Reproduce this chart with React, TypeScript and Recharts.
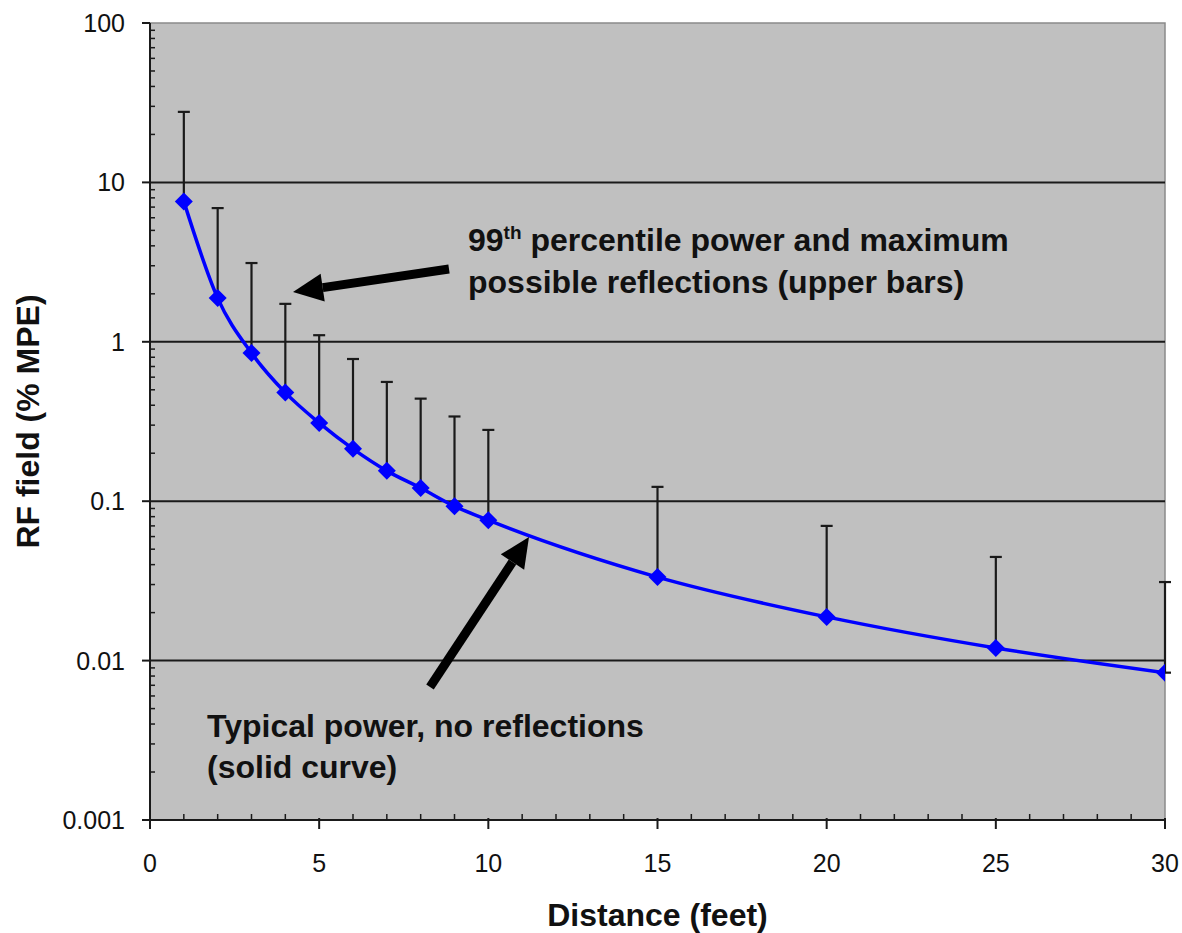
import {
  ComposedChart,
  ErrorBar,
  Line,
  ReferenceArea,
  ReferenceLine,
  XAxis,
  YAxis,
} from "recharts";

const distanceFeet = [1, 2, 3, 4, 5, 6, 7, 8, 9, 10, 15, 20, 25, 30];
const typicalPower = [
  7.6, 1.88, 0.85, 0.48, 0.31, 0.213, 0.155, 0.121, 0.093, 0.076, 0.0334, 0.0188, 0.012, 0.0084,
];
const upperBars = [
  27.7, 6.9, 3.12, 1.73, 1.1, 0.78, 0.56, 0.44, 0.34, 0.28, 0.123, 0.07, 0.0447, 0.0311,
];

const xTicks = [
  0, 1, 2, 3, 4, 5, 6, 7, 8, 9, 10, 11, 12, 13, 14, 15, 16, 17, 18, 19, 20, 21, 22, 23, 24, 25,
  26, 27, 28, 29, 30,
];
const yDecades = [0.001, 0.01, 0.1, 1, 10, 100];
const gridValues = [0.01, 0.1, 1, 10];

const yTickLabels: Record<string, string> = {
  "0.001": "0.001",
  "0.01": "0.01",
  "0.1": "0.1",
  "1": "1",
  "10": "10",
  "100": "100",
};

// log minor ticks 2..9 inside every decade
const yTicks = yDecades
  .slice(0, -1)
  .flatMap((d) => [1, 2, 3, 4, 5, 6, 7, 8, 9].map((m) => m * d))
  .concat([100]);

const data = distanceFeet.map((d, i) => ({
  distance: d,
  typical: typicalPower[i],
  err: [0, upperBars[i] - typicalPower[i]],
}));

const FONT = "'Liberation Sans', Arial, Helvetica, sans-serif";
const INK = "#1a1a1a";

function isDecade(v: number) {
  const l = Math.log10(v);
  return Math.abs(l - Math.round(l)) < 1e-6;
}

function XTick({ x, y, payload }: any) {
  const v = payload.value as number;
  const major = v % 5 === 0;
  return (
    <g>
      {major ? (
        <line x1={x} x2={x} y1={y - 2} y2={y + 9} stroke={INK} strokeWidth={2} />
      ) : (
        <line x1={x} x2={x} y1={y - 6} y2={y} stroke={INK} strokeWidth={1.5} />
      )}
      {major ? (
        <text x={x} y={y + 52} textAnchor="middle" fontSize={25} fontFamily={FONT} fill="#111">
          {v}
        </text>
      ) : null}
    </g>
  );
}

function YTick({ x, y, payload }: any) {
  const v = payload.value as number;
  if (!isDecade(v)) {
    return <line x1={x} x2={x + 5} y1={y} y2={y} stroke={INK} strokeWidth={1.5} />;
  }
  const key = String(Number(v.toPrecision(3)));
  return (
    <g>
      <line x1={x - 8} x2={x} y1={y} y2={y} stroke={INK} strokeWidth={2} />
      <text x={x - 25} y={y + 9} textAnchor="end" fontSize={25} fontFamily={FONT} fill="#111">
        {yTickLabels[key] ?? key}
      </text>
    </g>
  );
}

function Diamond({ cx, cy, index }: any) {
  if (cx == null || cy == null) return null;
  const r = 9;
  return (
    <polygon
      key={`d-${index}`}
      points={`${cx},${cy - r} ${cx + r},${cy} ${cx},${cy + r} ${cx - r},${cy}`}
      fill="#0000ff"
    />
  );
}

function YTitle({ viewBox }: any) {
  const cy = viewBox.y + viewBox.height / 2;
  const cx = 28;
  return (
    <text
      x={cx}
      y={cy}
      transform={`rotate(-90 ${cx} ${cy})`}
      textAnchor="middle"
      dominantBaseline="central"
      fontSize={32}
      fontWeight="bold"
      fontFamily={FONT}
      fill="#111"
    >
      RF field (% MPE)
    </text>
  );
}

function XTitle({ viewBox }: any) {
  const cx = viewBox.x + viewBox.width / 2;
  return (
    <text
      x={cx}
      y={926}
      textAnchor="middle"
      fontSize={32}
      fontWeight="bold"
      fontFamily={FONT}
      fill="#111"
    >
      Distance (feet)
    </text>
  );
}

function arrowHead(tail: [number, number], tip: [number, number], len: number, half: number) {
  const dx = tip[0] - tail[0];
  const dy = tip[1] - tail[1];
  const n = Math.hypot(dx, dy);
  const ux = dx / n;
  const uy = dy / n;
  const bx = tip[0] - ux * len;
  const by = tip[1] - uy * len;
  return {
    base: [bx, by],
    points: `${tip[0]},${tip[1]} ${bx - uy * half},${by + ux * half} ${bx + uy * half},${by - ux * half}`,
  };
}

function Arrow({ tail, tip }: { tail: [number, number]; tip: [number, number] }) {
  const head = arrowHead(tail, tip, 30, 14);
  return (
    <g>
      <line
        x1={tail[0]}
        y1={tail[1]}
        x2={head.base[0]}
        y2={head.base[1]}
        stroke="#000"
        strokeWidth={9}
      />
      <polygon points={head.points} fill="#000" />
    </g>
  );
}

function Annotations() {
  const textProps = {
    fontSize: 32,
    fontWeight: "bold" as const,
    fontFamily: FONT,
    fill: "#111",
  };
  return (
    <svg
      width={1182}
      height={933}
      style={{ position: "absolute", left: 0, top: 0, pointerEvents: "none" }}
    >
      <Arrow tail={[449, 269]} tip={[293, 292]} />
      <Arrow tail={[430, 687]} tip={[529, 537]} />
      <text x={468} y={251} {...textProps}>
        99<tspan fontSize={19} dy={-12}>th</tspan>
        <tspan dy={12}> percentile power and maximum</tspan>
      </text>
      <text x={468} y={293} {...textProps}>
        possible reflections (upper bars)
      </text>
      <text x={207} y={737} {...textProps}>
        Typical power, no reflections
      </text>
      <text x={207} y={778} {...textProps}>
        (solid curve)
      </text>
    </svg>
  );
}

export default function App() {
  return (
    <div
      style={{
        position: "absolute",
        left: 0,
        top: 0,
        width: 1182,
        height: 933,
        background: "#fff",
      }}
    >
      <ComposedChart
        width={1182}
        height={933}
        data={data}
        margin={{ top: 23, right: 17, bottom: 0, left: 0 }}
      >
        <ReferenceArea
          x1={0}
          x2={30}
          y1={0.001}
          y2={100}
          fill="#c0c0c0"
          fillOpacity={1}
          stroke="#8a8a8a"
          strokeWidth={1.5}
        />
        {gridValues.map((v) => (
          <ReferenceLine key={v} y={v} stroke={INK} strokeWidth={2} />
        ))}
        <XAxis
          dataKey="distance"
          type="number"
          domain={[0, 30]}
          ticks={xTicks}
          interval={0}
          height={113}
          tickSize={0}
          tickMargin={0}
          tickLine={false}
          tick={<XTick />}
          axisLine={{ stroke: INK, strokeWidth: 2 }}
          allowDataOverflow
          label={<XTitle />}
        />
        <YAxis
          type="number"
          scale="log"
          domain={[0.001, 100]}
          ticks={yTicks}
          interval={0}
          width={150}
          tickSize={0}
          tickMargin={0}
          tickLine={false}
          tick={<YTick />}
          axisLine={{ stroke: INK, strokeWidth: 2 }}
          allowDataOverflow
          label={<YTitle />}
        />
        <Line
          type="monotone"
          dataKey="typical"
          stroke="#0000ff"
          strokeWidth={3.5}
          dot={<Diamond />}
          activeDot={false}
          isAnimationActive={false}
        >
          <ErrorBar
            dataKey="err"
            direction="y"
            width={6}
            stroke={INK}
            strokeWidth={2.2}
            isAnimationActive={false}
          />
        </Line>
      </ComposedChart>
      <Annotations />
    </div>
  );
}
